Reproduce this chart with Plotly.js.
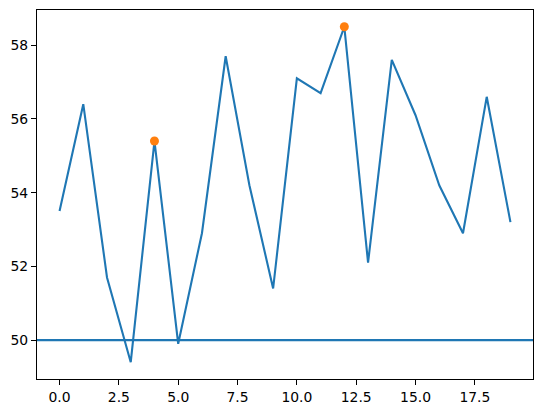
<!DOCTYPE html>
<html>
<head>
<meta charset="utf-8">
<script src="https://cdn.plot.ly/plotly-3.0.1.min.js"></script>
<style>html,body{margin:0;padding:0;background:#fff;}#chart{width:543px;height:413px;}</style>
</head>
<body>
<div id="chart"></div>
<script>
const xValues = [0,1,2,3,4,5,6,7,8,9,10,11,12,13,14,15,16,17,18,19];
const yValues = [53.5,56.4,51.7,49.4,55.4,49.9,52.9,57.7,54.2,51.4,57.1,56.7,58.5,52.1,57.6,56.1,54.2,52.9,56.6,53.2];
const highlightX = [4, 12];
const highlightY = [55.4, 58.5];
const thresholdY = 50;
const xTicks = [0, 2.5, 5, 7.5, 10, 12.5, 15, 17.5];
const xTickText = ['0.0','2.5','5.0','7.5','10.0','12.5','15.0','17.5'];
const yTicks = [50, 52, 54, 56, 58];
const yTickText = ['50','52','54','56','58'];

const traces = [
  {x: xValues, y: yValues, type: 'scatter', mode: 'lines',
   line: {color: '#1f77b4', width: 2.1}, hoverinfo: 'skip'},
  {x: highlightX, y: highlightY, type: 'scatter', mode: 'markers',
   marker: {color: '#ff7f0e', size: 9}, hoverinfo: 'skip'}
];

const axisCommon = {
  showline: true, mirror: true, linecolor: '#000', linewidth: 1.1,
  ticks: 'outside', ticklen: 5, tickwidth: 1.1, tickcolor: '#000',
  showgrid: false, zeroline: false,
  tickfont: {family: 'DejaVu Sans', size: 13.9, color: '#000'}
};

const layout = {
  width: 543, height: 413,
  margin: {l: 37.3, r: 9.7, t: 10, b: 34},
  paper_bgcolor: '#fff', plot_bgcolor: '#fff',
  showlegend: false,
  xaxis: Object.assign({}, axisCommon, {range: [-0.95, 19.95], tickvals: xTicks, ticktext: xTickText}),
  yaxis: Object.assign({}, axisCommon, {range: [48.945, 58.955], tickvals: yTicks, ticktext: yTickText}),
  shapes: [{type: 'line', xref: 'paper', x0: 0, x1: 1, yref: 'y', y0: thresholdY, y1: thresholdY,
            line: {color: '#1f77b4', width: 2.1}, layer: 'below'}]
};

Plotly.newPlot('chart', traces, layout, {staticPlot: true, displayModeBar: false});
</script>
</body>
</html>
